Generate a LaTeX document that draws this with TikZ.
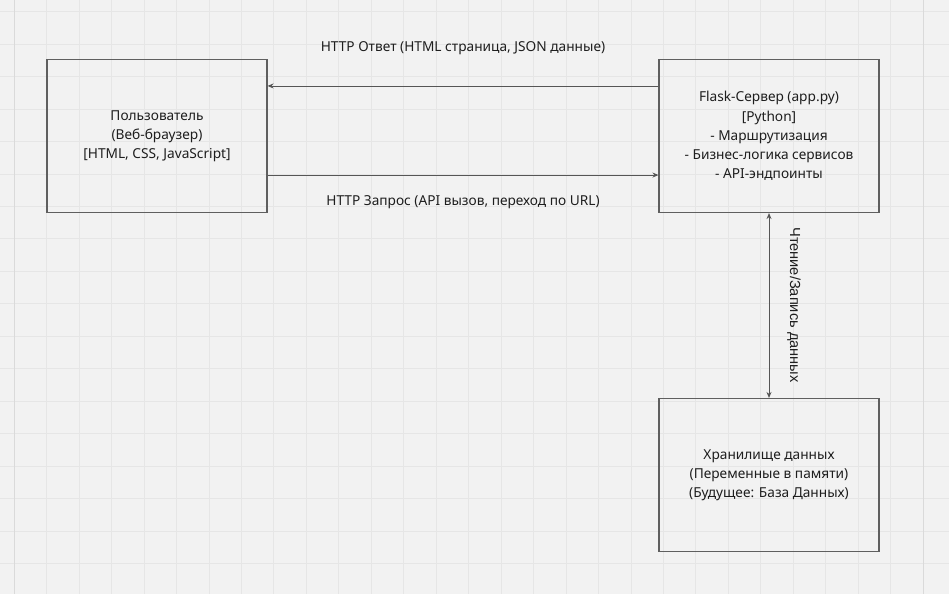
\documentclass[tikz,border=0pt]{standalone}
\usepackage{fontspec}
\setmainfont{Noto Sans}
\newfontfamily\vlabelfont{Liberation Sans}
\usetikzlibrary{arrows.meta,calc}
\definecolor{bgc}{HTML}{F2F2F2}
\definecolor{gridc}{HTML}{E6E6E6}
\definecolor{gridd}{HTML}{DADADA}
\definecolor{boxc}{HTML}{5F5F5F}
\definecolor{txtc}{HTML}{1E1E1E}
\tikzset{
  box/.style={draw=boxc, line width=1.1pt, minimum width=220pt, minimum height=153pt, align=center, inner sep=0pt, text=txtc, font=\fontsize{13.7}{19.2}\selectfont},
  conn/.style={draw=boxc!90!black, line width=0.9pt},
  arr/.style={conn, -{Stealth[length=6pt,width=5pt]}},
  darr/.style={conn, {Stealth[length=6pt,width=5pt]}-{Stealth[length=6pt,width=5pt]}},
  lbl/.style={text=txtc, font=\fontsize{13.7}{16}\selectfont, inner sep=0pt},
}
\begin{document}
\begin{tikzpicture}[x=1pt,y=-1pt]
\fill[bgc] (0,0) rectangle (949,594);
\useasboundingbox (0,0) rectangle (949,594);
\foreach \i in {0,...,29} {
  \draw[gridc, line width=1pt] ({14.3+32.46*\i},0) -- ({14.3+32.46*\i},594);
}
\foreach \j in {0,...,18} {
  \draw[gridc, line width=1pt] (0,{11.7+32.46*\j}) -- (949,{11.7+32.46*\j});
}
\draw[gridd, line width=1pt] (14.3,0) -- (14.3,594);
\draw[gridd, line width=1pt] (923.2,0) -- (923.2,594);

\node[box] (user) at (157,136) {Пользователь\\(Веб-браузер)\\{[}HTML, CSS, JavaScript{]}};
\node[box] (server) at (769,136) {Flask-Сервер (app.py)\\{[}Python{]}\\- Маршрутизация\\- Бизнес-логика сервисов\\- API-эндпоинты};
\node[box] (store) at (769,475) {Хранилище данных\\(Переменные в памяти)\\(Будущее: База Данных)};

\draw[arr] ([yshift=-27pt]server.north west) -- ([yshift=-27pt]user.north east);
\draw[arr] ([yshift=38pt]user.south east) -- ([yshift=38pt]server.south west);
\draw[darr] (server.south) -- (store.north);

\node[lbl] (resp) at (463,48) {HTTP Ответ (HTML страница, JSON данные)};
\node[lbl] (req) at (463,202) {HTTP Запрос (API вызов, переход по URL)};
\node[lbl, font=\vlabelfont\fontsize{14.6}{16}\selectfont, rotate=-90] (rw) at (794,305) {Чтение/Запись данных};
\end{tikzpicture}
\end{document}
